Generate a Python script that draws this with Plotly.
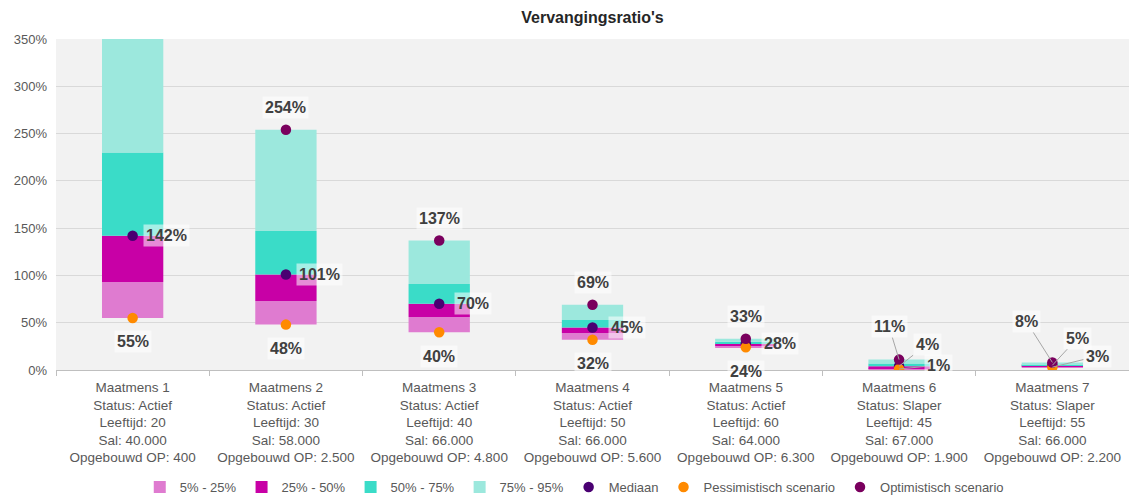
import plotly.graph_objects as go

categories = [
    "Maatmens 1<br>Status: Actief<br>Leeftijd: 20<br>Sal: 40.000<br>Opgebouwd OP: 400",
    "Maatmens 2<br>Status: Actief<br>Leeftijd: 30<br>Sal: 58.000<br>Opgebouwd OP: 2.500",
    "Maatmens 3<br>Status: Actief<br>Leeftijd: 40<br>Sal: 66.000<br>Opgebouwd OP: 4.800",
    "Maatmens 4<br>Status: Actief<br>Leeftijd: 50<br>Sal: 66.000<br>Opgebouwd OP: 5.600",
    "Maatmens 5<br>Status: Actief<br>Leeftijd: 60<br>Sal: 64.000<br>Opgebouwd OP: 6.300",
    "Maatmens 6<br>Status: Slaper<br>Leeftijd: 45<br>Sal: 67.000<br>Opgebouwd OP: 1.900",
    "Maatmens 7<br>Status: Slaper<br>Leeftijd: 55<br>Sal: 66.000<br>Opgebouwd OP: 2.200",
]
p5 = [55, 48, 40, 32, 24, 1, 3]
p25 = [93, 73, 56, 39, 26, 2, 4]
p50 = [142, 101, 70, 45, 28, 4, 5]
p75 = [230, 147, 91, 53, 30, 7, 6]
p95 = [380, 254, 137, 69, 33, 11, 8]
mediaan = [142, 101, 70, 45, 28, 4, 5]
pessimistisch = [55, 48, 40, 32, 24, 1, 3]
optimistisch = [380, 254, 137, 69, 33, 11, 8]

Y_MAX = 350

band_names = ["5% - 25%", "25% - 50%", "50% - 75%", "75% - 95%"]
band_colors = ["#df7bd0", "#c800a6", "#3adcc8", "#9ce8dd"]
bounds = [p5, p25, p50, p75, p95]

fig = go.Figure()
for i, name in enumerate(band_names):
    lo, hi = bounds[i], bounds[i + 1]
    fig.add_trace(go.Bar(
        x=categories, y=[h - l for l, h in zip(lo, hi)], base=lo,
        name=name, marker=dict(color=band_colors[i], line=dict(width=0)),
        width=0.4, hoverinfo="skip",
    ))

pts = [("Mediaan", mediaan, "#4a0072"), ("Pessimistisch scenario", pessimistisch, "#ff8a00"),
       ("Optimistisch scenario", optimistisch, "#7a005e")]
for name, vals, col in pts:
    fig.add_trace(go.Scatter(x=categories, y=vals, mode="markers", name=name,
                             marker=dict(color=col, size=10.5, line=dict(width=0)),
                             cliponaxis=True))

lbl_font = dict(family="Liberation Sans, Arial, sans-serif", size=16, color="#404040")
bg = "rgba(255,255,255,0.55)"

def add_label(xc, yv, dx, dy, arrow=False):
    if yv > Y_MAX:
        return
    if arrow:
        fig.add_annotation(x=xc, y=yv, text="<b>%d%%</b>" % yv, showarrow=True,
                           arrowhead=0, arrowwidth=1, arrowcolor="#a6a6a6",
                           ax=dx, ay=dy, font=lbl_font, bgcolor=bg, borderpad=2,
                           standoff=0)
    else:
        fig.add_annotation(x=xc, y=yv, text="<b>%d%%</b>" % yv, showarrow=False,
                           xshift=dx, yshift=dy, font=lbl_font, bgcolor=bg, borderpad=2)

for i, c in enumerate(categories):
    if i < 5:
        add_label(c, optimistisch[i], 0, 22)
        add_label(c, mediaan[i], 34, 0)
        add_label(c, pessimistisch[i], 0, -24)
    elif i == 5:
        add_label(c, optimistisch[i], -10, -33, True)
        add_label(c, mediaan[i], 28, -22, True)
        add_label(c, pessimistisch[i], 39, -4, True)
    else:
        add_label(c, optimistisch[i], -26, -41, True)
        add_label(c, mediaan[i], 25, -27, True)
        add_label(c, pessimistisch[i], 45, -11, True)

fig.update_layout(
    width=1129, height=502,
    margin=dict(l=56, r=0, t=39, b=131),
    paper_bgcolor="white", plot_bgcolor="#f2f2f2",
    barmode="overlay",
    font=dict(family="Liberation Sans, Arial, sans-serif", size=13, color="#595959"),
    title=dict(text="<b>Vervangingsratio's</b>", x=0.5, xref="paper", y=0.965, yanchor="middle",
               font=dict(size=16, color="#262626"), automargin=False),
    legend=dict(orientation="h", x=0.483, xanchor="center", y=-0.352, yanchor="middle",
                font=dict(size=13, color="#595959"), itemwidth=30, tracegroupgap=0,
                bgcolor="rgba(0,0,0,0)"),
    showlegend=True,
)
fig.update_xaxes(showgrid=False, showline=True, linecolor="#bfbfbf", ticks="outside",
                 tickson="boundaries", ticklen=5, tickcolor="#bfbfbf", automargin=False,
                 ticklabelstandoff=5,
                 tickfont=dict(size=13.5, color="#595959"), fixedrange=True)
fig.update_yaxes(range=[0, Y_MAX], dtick=50, ticksuffix="%", showgrid=True, automargin=False,
                 gridcolor="#d9d9d9", gridwidth=1, zeroline=False, showline=False,
                 tickfont=dict(size=13, color="#595959"), ticks="", ticklabelstandoff=8)

fig.write_html("out.html", config={"displayModeBar": False},
               post_script="document.body.style.margin='0px';")
